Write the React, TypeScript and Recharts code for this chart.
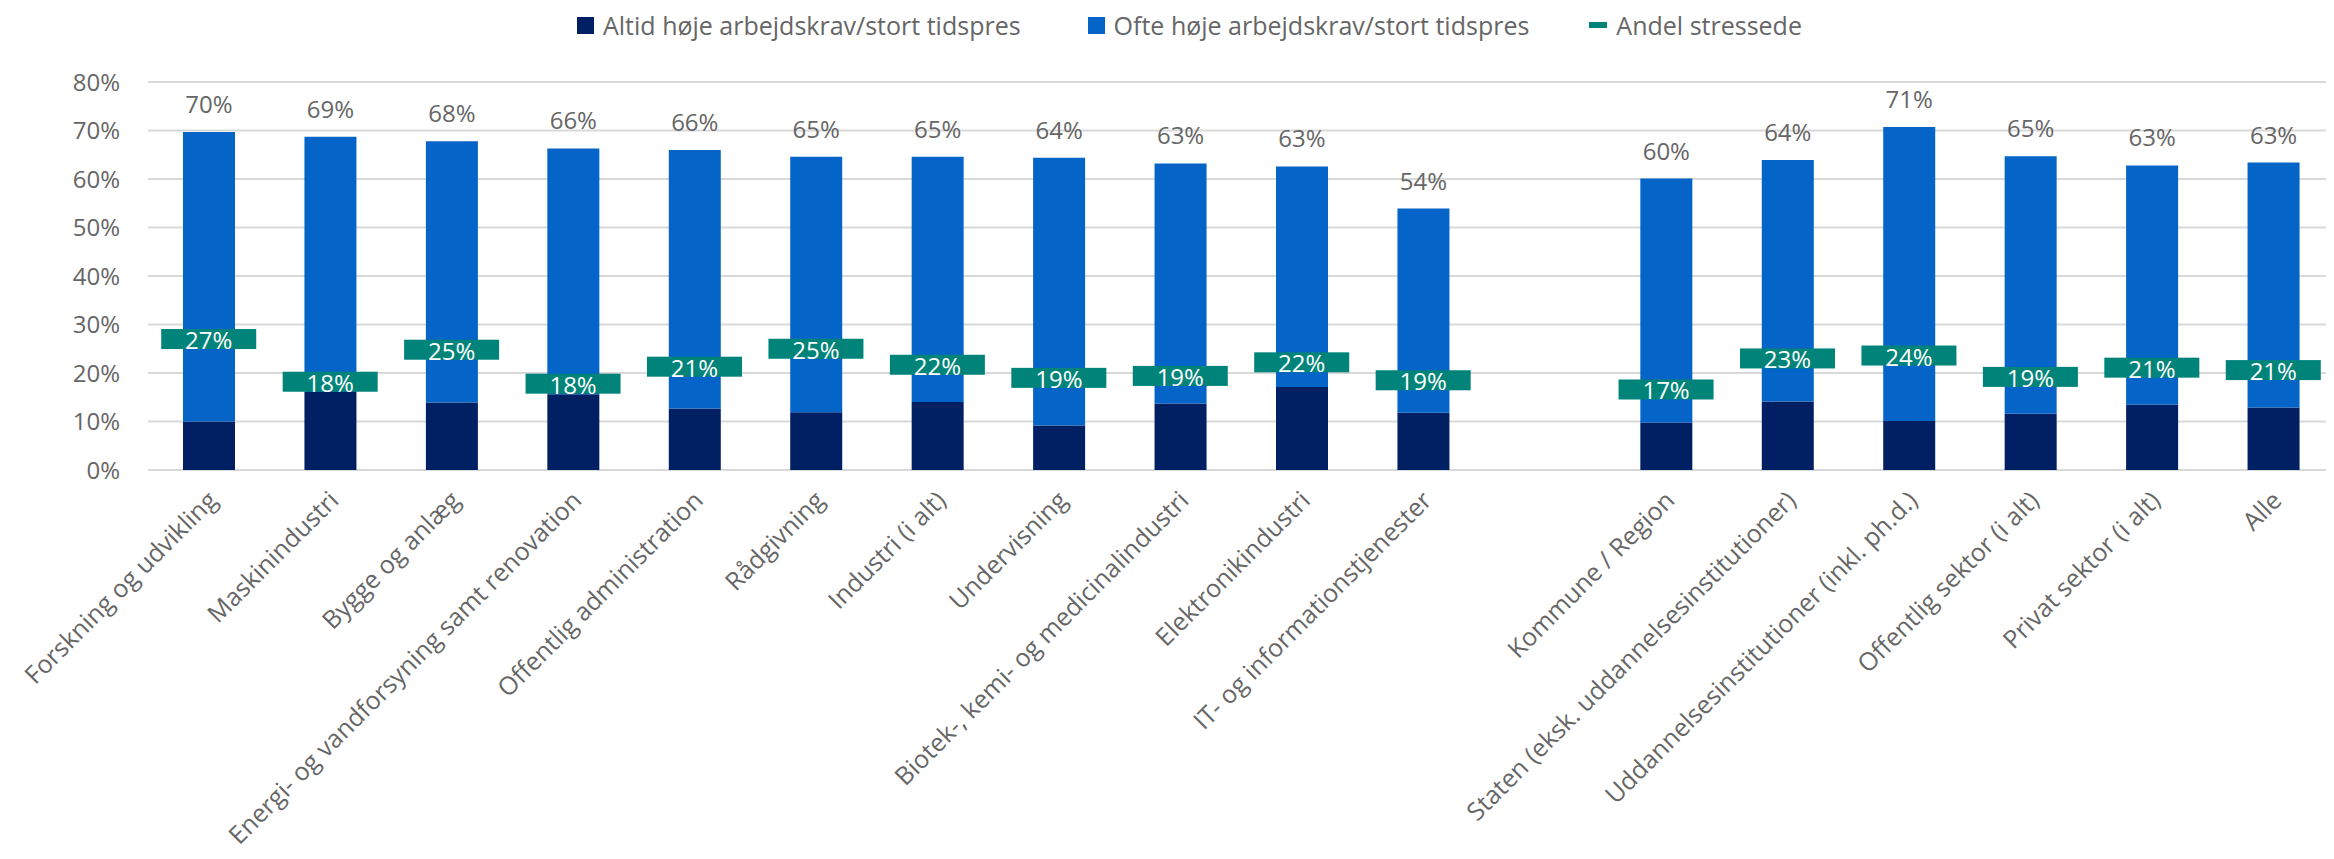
import { ComposedChart, Bar, Line, XAxis, YAxis, CartesianGrid, LabelList, Legend } from "recharts";

const NAVY = "#002063";
const BLUE = "#0564C8";
const TEAL = "#00847A";
const GREY = "#666666";

const categories = [
  "Forskning og udvikling",
  "Maskinindustri",
  "Bygge og anlæg",
  "Energi- og vandforsyning samt renovation",
  "Offentlig administration",
  "Rådgivning",
  "Industri (i alt)",
  "Undervisning",
  "Biotek-, kemi- og medicinalindustri",
  "Elektronikindustri",
  "IT- og informationstjenester",
  "",
  "Kommune / Region",
  "Staten (eksk. uddannelsesinstitutioner)",
  "Uddannelsesinstitutioner (inkl. ph.d.)",
  "Offentlig sektor (i alt)",
  "Privat sektor (i alt)",
  "Alle",
];

// Altid høje arbejdskrav/stort tidspres
const altid = [10.0, 16.1, 13.9, 15.6, 12.7, 11.9, 14.0, 9.2, 13.7, 17.1, 11.8, null, 9.8, 14.1, 10.1, 11.6, 13.5, 12.9];
// Ofte høje arbejdskrav/stort tidspres
const ofte = [59.7, 52.6, 53.9, 50.7, 53.3, 52.7, 50.6, 55.2, 49.5, 45.5, 42.1, null, 50.3, 49.8, 60.6, 53.1, 49.3, 50.5];
// labels above the bars (total)
const totals = [70, 69, 68, 66, 66, 65, 65, 64, 63, 63, 54, null, 60, 64, 71, 65, 63, 63];
// Andel stressede
const stress = [27.0, 18.2, 24.8, 17.8, 21.3, 25.0, 21.7, 19.0, 19.4, 22.2, 18.5, null, 16.6, 23.0, 23.6, 19.2, 21.1, 20.6];

const yTicks = [0, 10, 20, 30, 40, 50, 60, 70, 80];

const data = categories.map((name, i) => ({
  name,
  altid: altid[i],
  ofte: ofte[i],
  total: totals[i],
  stress: stress[i],
}));

const legendItems = [
  { label: "Altid høje arbejdskrav/stort tidspres", color: NAVY, kind: "square", gap: 0 },
  { label: "Ofte høje arbejdskrav/stort tidspres", color: BLUE, kind: "square", gap: 67 },
  { label: "Andel stressede", color: TEAL, kind: "dash", gap: 60 },
];

const renderLegend = () => (
  <div style={{ display: "flex", alignItems: "center", height: 50, paddingLeft: 577, color: GREY, fontSize: 25 }}>
    {legendItems.map((it) => (
      <div key={it.label} style={{ display: "flex", alignItems: "center", marginLeft: it.gap }}>
        <span
          style={{
            display: "inline-block",
            width: it.kind === "square" ? 17 : 18,
            height: it.kind === "square" ? 17 : 6,
            background: it.color,
            marginRight: 9,
          }}
        />
        <span>{it.label}</span>
      </div>
    ))}
  </div>
);

const CategoryTick = (props: any) => {
  const { x, y, payload } = props;
  if (!payload || !payload.value) return <g />;
  const ax = x + 10;
  const ay = y + 32;
  return (
    <text x={ax} y={ay} transform={`rotate(-45 ${ax} ${ay})`} textAnchor="end" fill={GREY} fontSize={25}>
      {payload.value}
    </text>
  );
};

const StressDot = (props: any) => {
  const { cx, cy, payload, index } = props;
  if (payload == null || payload.stress == null || cy == null) return <g key={`s-${index}`} />;
  return (
    <g key={`s-${index}`}>
      <rect x={cx - 47.5} y={cy - 10} width={95} height={20} fill={TEAL} />
      <text x={cx} y={cy + 10} textAnchor="middle" fill="#ffffff" fontSize={24}>
        {Math.round(payload.stress)}%
      </text>
    </g>
  );
};

export default function App() {
  return (
    <div style={{ margin: -8, width: 2334, height: 859, fontFamily: "'Open Sans', sans-serif", position: "relative" }}>
      <ComposedChart width={2334} height={859} data={data} margin={{ top: 82, right: 0, left: 0, bottom: 0 }}>
        <CartesianGrid vertical={false} stroke="#D9D9D9" strokeWidth={2} />
        <XAxis
          dataKey="name"
          interval={0}
          height={389}
          axisLine={false}
          tickLine={false}
          tickSize={0}
          tickMargin={0}
          tick={<CategoryTick />}
        />
        <YAxis
          domain={[0, 80]}
          ticks={yTicks}
          tickFormatter={(v) => `${v}%`}
          axisLine={false}
          tickLine={false}
          tickSize={0}
          tickMargin={28}
          width={148}
          tick={{ fill: GREY, fontSize: 24 }}
        />
        <Legend
          layout="horizontal"
          verticalAlign="middle"
          align="center"
          wrapperStyle={{ top: 0, left: 0, width: 2334 }}
          content={renderLegend}
        />
        <Bar dataKey="altid" stackId="a" fill={NAVY} barSize={52} isAnimationActive={false} />
        <Bar dataKey="ofte" stackId="a" fill={BLUE} barSize={52} isAnimationActive={false}>
          <LabelList
            dataKey="total"
            position="top"
            offset={19}
            fill={GREY}
            fontSize={24}
            formatter={(v: any) => (v == null ? "" : `${v}%`)}
          />
        </Bar>
        <Line
          dataKey="stress"
          stroke="none"
          dot={<StressDot />}
          activeDot={false}
          isAnimationActive={false}
        />
      </ComposedChart>
    </div>
  );
}
